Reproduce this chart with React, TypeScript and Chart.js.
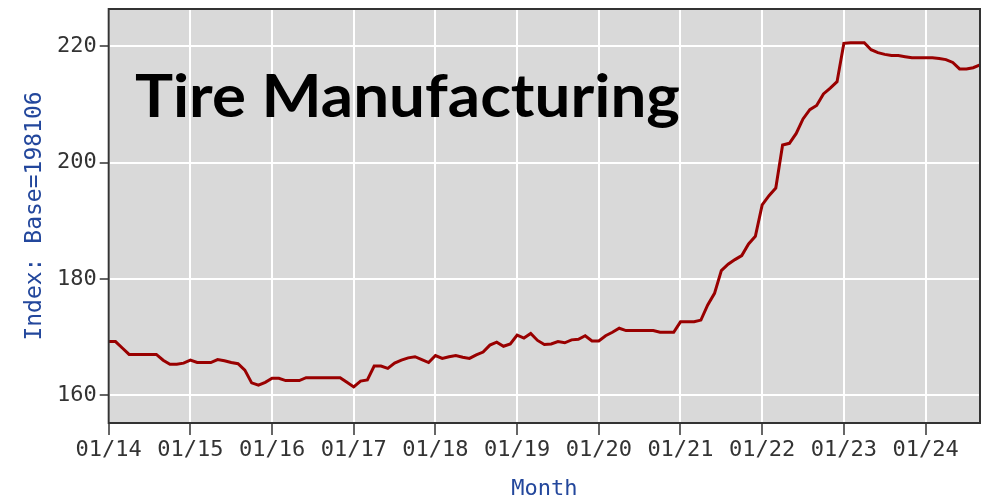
import React, { useEffect, useRef } from 'react';
import { Chart, registerables } from 'chart.js';

Chart.register(...registerables);

// Tick labels / positions (months since Jan 2014)
const xTickLabels = ['01/14', '01/15', '01/16', '01/17', '01/18', '01/19', '01/20', '01/21', '01/22', '01/23', '01/24'];
const xTickMonths = [0, 12, 24, 36, 48, 60, 72, 84, 96, 108, 120];
const yTickValues = [160, 180, 200, 220];

// Monthly index values, Jan 2014 .. Sep 2024
const values2014 = [169.2, 169.2, 168.1, 167.0, 167.0, 167.0, 167.0, 167.0, 166.0, 165.3, 165.3, 165.5];
const values2015 = [166.0, 165.6, 165.6, 165.6, 166.1, 165.9, 165.6, 165.4, 164.3, 162.1, 161.7, 162.2];
const values2016 = [162.9, 162.9, 162.5, 162.5, 162.5, 163.0, 163.0, 163.0, 163.0, 163.0, 163.0, 162.2];
const values2017 = [161.4, 162.4, 162.6, 165.0, 165.0, 164.6, 165.5, 166.0, 166.4, 166.6, 166.1, 165.6];
const values2018 = [166.8, 166.3, 166.6, 166.8, 166.5, 166.3, 166.9, 167.4, 168.6, 169.1, 168.4, 168.8];
const values2019 = [170.3, 169.8, 170.6, 169.4, 168.7, 168.8, 169.2, 169.0, 169.5, 169.6, 170.2, 169.3];
const values2020 = [169.3, 170.2, 170.8, 171.5, 171.1, 171.1, 171.1, 171.1, 171.1, 170.8, 170.8, 170.8];
const values2021 = [172.6, 172.6, 172.6, 172.9, 175.5, 177.5, 181.4, 182.5, 183.3, 184.0, 186.0, 187.3];
const values2022 = [192.7, 194.3, 195.6, 203.0, 203.3, 205.0, 207.5, 209.1, 209.8, 211.8, 212.8, 213.9];
const values2023 = [220.5, 220.6, 220.6, 220.6, 219.4, 218.9, 218.6, 218.4, 218.4, 218.2, 218.0, 218.0];
const values2024 = [218.0, 218.0, 217.9, 217.7, 217.2, 216.1, 216.1, 216.3, 216.8];

const indexValues = [
  ...values2014, ...values2015, ...values2016, ...values2017, ...values2018, ...values2019,
  ...values2020, ...values2021, ...values2022, ...values2023, ...values2024,
];

const CHART_TITLE = 'Tire Manufacturing';
const X_TITLE = 'Month';
const Y_TITLE = 'Index: Base=198106';

const MONO = '"DejaVu Sans Mono", monospace';
const BLUE = '#23479c';
const TICK_COLOR = '#333333';

const backgroundPlugin = {
  id: 'plotBackground',
  beforeDraw(chart: any) {
    const { ctx, chartArea } = chart;
    ctx.save();
    ctx.fillStyle = '#d9d9d9';
    ctx.fillRect(chartArea.left, chartArea.top, chartArea.right - chartArea.left, chartArea.bottom - chartArea.top);
    ctx.restore();
  },
};

const framePlugin = {
  id: 'plotFrame',
  afterDraw(chart: any) {
    const { ctx, chartArea } = chart;
    ctx.save();
    ctx.strokeStyle = '#333333';
    ctx.lineWidth = 2;
    ctx.strokeRect(chartArea.left, chartArea.top, chartArea.right - chartArea.left, chartArea.bottom - chartArea.top);
    // overlay title
    ctx.font = 'bold 60px Lato';
    ctx.fillStyle = '#000000';
    ctx.textBaseline = 'alphabetic';
    ctx.textAlign = 'left';
    const w = ctx.measureText(CHART_TITLE).width;
    ctx.translate(135, 117);
    ctx.scale(545 / w, 1);
    ctx.fillText(CHART_TITLE, 0, 0);
    ctx.restore();
  },
};

export default function App() {
  const canvasRef = useRef<HTMLCanvasElement | null>(null);

  useEffect(() => {
    const canvas = canvasRef.current;
    if (!canvas) return;
    const points = indexValues.map((v, i) => ({ x: i, y: v }));
    const chart = new Chart(canvas, {
      type: 'line',
      data: {
        datasets: [
          {
            data: points,
            borderColor: '#990000',
            borderWidth: 3,
            pointRadius: 0,
            tension: 0,
            fill: false,
          },
        ],
      },
      options: {
        animation: false,
        responsive: false,
        devicePixelRatio: 1,
        layout: { padding: { top: 9, right: 6, left: 0, bottom: 0 } },
        plugins: {
          legend: { display: false },
          tooltip: { enabled: false },
          title: { display: false },
        },
        scales: {
          x: {
            type: 'linear',
            min: 0,
            max: 128,
            afterBuildTicks: (scale: any) => {
              scale.ticks = xTickMonths.map((v) => ({ value: v }));
            },
            afterFit: (scale: any) => {
              scale.height = 78;
              scale.paddingLeft = 0;
              scale.paddingRight = 0;
            },
            ticks: {
              autoSkip: false,
              maxRotation: 0,
              minRotation: 0,
              padding: 2,
              color: TICK_COLOR,
              font: { family: MONO, size: 22 },
              callback: (value: any) => {
                const idx = xTickMonths.indexOf(Number(value));
                return idx >= 0 ? xTickLabels[idx] : '';
              },
            },
            grid: {
              color: '#ffffff',
              lineWidth: 2,
              drawTicks: true,
              tickLength: 12,
              tickColor: TICK_COLOR,
              tickWidth: 1.5,
            },
            border: { display: false },
            title: {
              display: true,
              text: X_TITLE,
              color: BLUE,
              font: { family: MONO, size: 22, lineHeight: 1 },
              padding: { top: 0, bottom: 1 },
            },
          },
          y: {
            type: 'linear',
            min: 155.2,
            max: 226.4,
            afterBuildTicks: (scale: any) => {
              scale.ticks = yTickValues.map((v) => ({ value: v }));
            },
            afterFit: (scale: any) => {
              scale.width = 108.7;
              scale.paddingTop = 0;
              scale.paddingBottom = 0;
            },
            ticks: {
              padding: 3,
              color: TICK_COLOR,
              font: { family: MONO, size: 22 },
            },
            grid: {
              color: '#ffffff',
              lineWidth: 2,
              drawTicks: true,
              tickLength: 9,
              tickColor: TICK_COLOR,
              tickWidth: 1.5,
            },
            border: { display: false },
            title: {
              display: true,
              text: Y_TITLE,
              color: BLUE,
              font: { family: MONO, size: 23 },
              padding: { top: 21, bottom: 0 },
            },
          },
        },
      },
      plugins: [backgroundPlugin, framePlugin],
    });
    return () => chart.destroy();
  }, []);

  return (
    <div style={{ position: 'absolute', left: 0, top: 0, width: 986, height: 501, background: '#ffffff' }}>
      <canvas ref={canvasRef} width={986} height={501} />
    </div>
  );
}
